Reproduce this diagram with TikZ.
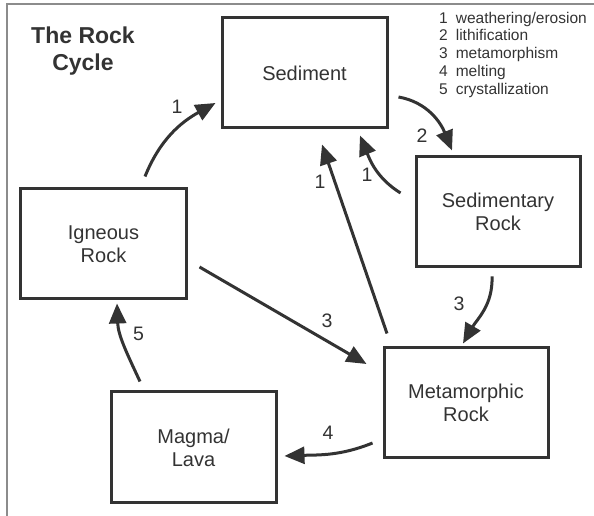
\documentclass[tikz,border=0pt]{standalone}
\usepackage{fontspec}
\setmainfont{Liberation Sans}
\usetikzlibrary{arrows.meta}
\definecolor{inkgray}{HTML}{333333}
\definecolor{framegray}{HTML}{8C8C8C}
\newcommand{\boxsize}{\fontsize{20bp}{23bp}\selectfont}
\newcommand{\titlesize}{\fontsize{23bp}{27bp}\selectfont\bfseries}
\newcommand{\keysize}{\fontsize{15.5bp}{17.7bp}\selectfont}
\newcommand{\numsize}{\fontsize{19.5bp}{19.5bp}\selectfont}
\begin{document}
\begin{tikzpicture}[x=1bp,y=1bp,
  rockbox/.style={draw=inkgray,line width=3bp,minimum width=165bp,minimum height=110bp,
    align=center,text=inkgray,font=\boxsize},
  flow/.style={draw=inkgray,line width=3bp,-{Triangle[length=20bp,width=17bp]}},
  num/.style={text=inkgray,inner sep=0pt,font=\numsize}]
\useasboundingbox (0,0) rectangle (594,516);
% frame, only top and left
\draw[framegray,line width=1.2bp] (7,0) -- (7,512) -- (594,512);
% title and key
\node[text=inkgray,align=center,font=\titlesize] (title) at (83,464.5) {The Rock\\Cycle};
\node[text=inkgray,inner sep=0pt,anchor=base west,font=\keysize] (key) at (439,492.7)
  {\begin{tabular}[t]{@{}l@{\hspace{8bp}}l@{}}
   1 & weathering/erosion\\
   2 & lithification\\
   3 & metamorphism\\
   4 & melting\\
   5 & crystallization
   \end{tabular}};
% the five stages
\node[rockbox] (sediment) at (304.5,443) {Sediment};
\node[rockbox,minimum width=164bp] (sedrock) at (498,304) {Sedimentary\\Rock};
\node[rockbox,minimum width=164bp] (meta) at (466,113) {Metamorphic\\Rock};
\node[rockbox] (igneous) at (103.5,272) {Igneous\\Rock};
\node[rockbox,minimum height=111bp] (magma) at (193.5,68.5) {Magma/\\Lava};
% processes
\draw[flow] ([xshift=41.5bp,yshift=11bp]igneous.north) to[out=68,in=209]
  ([xshift=-5bp,yshift=-30bp]sediment.west);
\draw[flow] ([xshift=10bp,yshift=-24bp]sediment.east) to[out=-10,in=112]
  ([xshift=-46bp,yshift=5bp]sedrock.north);
\draw[flow] ([xshift=-14bp,yshift=19bp]sedrock.west) to[out=148,in=-68]
  ([xshift=55.5bp,yshift=-6bp]sediment.south);
\draw[flow] ([xshift=-79bp,yshift=13bp]meta.north) -- ([xshift=17.5bp,yshift=-15bp]sediment.south);
\draw[flow] ([xshift=12bp,yshift=-23bp]igneous.east) -- ([xshift=-16bp,yshift=39bp]meta.west);
\draw[flow] ([xshift=-6bp,yshift=-8bp]sedrock.south) to[out=-88,in=60]
  ([xshift=-3bp,yshift=3bp]meta.north);
\draw[flow] ([xshift=-10bp,yshift=-40bp]meta.west) to[out=202,in=2]
  ([xshift=7bp,yshift=-8.5bp]magma.east);
\draw[flow] ([xshift=-53.5bp,yshift=9bp]magma.north) to[out=115,in=-88]
  ([xshift=13.5bp,yshift=-3bp]igneous.south);
% process numbers
\node[num] (n1a) at (177,409) {1};
\node[num] (n2) at (422,380) {2};
\node[num] (n1b) at (367,341) {1};
\node[num] (n1c) at (320,334) {1};
\node[num] (n3a) at (327,195) {3};
\node[num] (n3b) at (459,212) {3};
\node[num] (n4) at (328,83) {4};
\node[num] (n5) at (138.5,182) {5};
\end{tikzpicture}
\end{document}
